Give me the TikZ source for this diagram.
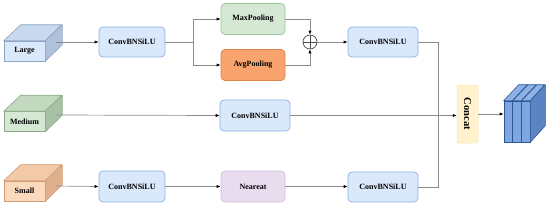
\documentclass[tikz,border=0pt]{standalone}
\usepackage{fontspec}
\setmainfont{Liberation Serif}
\usetikzlibrary{arrows.meta,calc}
\definecolor{convfill}{HTML}{DAE8FC}
\definecolor{convdraw}{HTML}{8DB0E3}
\definecolor{maxfill}{HTML}{D5E8D4}
\definecolor{maxdraw}{HTML}{9CC497}
\definecolor{avgfill}{HTML}{F9A46E}
\definecolor{avgdraw}{HTML}{DB8448}
\definecolor{nearfill}{HTML}{E8DCEF}
\definecolor{neardraw}{HTML}{D3BFE0}
\definecolor{catfill}{HTML}{FFF2CC}
\definecolor{catdraw}{HTML}{F6E6B4}
\definecolor{linegray}{HTML}{8C8C8C}
% cubes
\definecolor{Lfront}{HTML}{DAE8FC}
\definecolor{Ltop}{HTML}{C8D8EE}
\definecolor{Lside}{HTML}{AFC2DA}
\definecolor{Ldraw}{HTML}{8FA5C4}
\definecolor{Mfront}{HTML}{D5E8D4}
\definecolor{Mtop}{HTML}{C2D9C0}
\definecolor{Mside}{HTML}{A7C1A4}
\definecolor{Mdraw}{HTML}{8DAA89}
\definecolor{Sfront}{HTML}{FBD9BD}
\definecolor{Stop}{HTML}{F3CAA8}
\definecolor{Sside}{HTML}{E0B08C}
\definecolor{Sdraw}{HTML}{D29E78}
\definecolor{Ofront}{HTML}{7EA6E0}
\definecolor{Otop}{HTML}{8EB2E6}
\definecolor{Oside}{HTML}{5B85C2}
\definecolor{Oline}{HTML}{2B5797}
\begin{document}
\begin{tikzpicture}[x=1pt,y=-1pt,
  lbl/.style={font=\bfseries\fontsize{8}{9}\selectfont},
  box/.style={lbl, rounded corners=4pt, line width=0.7pt, minimum width=66pt, minimum height=30pt, inner sep=0pt},
  conv/.style={box, fill=convfill, draw=convdraw},
  maxbox/.style={box, fill=maxfill, draw=maxdraw, minimum width=64pt, minimum height=31pt},
  avgbox/.style={box, fill=avgfill, draw=avgdraw, minimum width=64pt, minimum height=31pt},
  nearbox/.style={box, fill=nearfill, draw=neardraw, minimum width=64pt, minimum height=31pt},
  catbox/.style={rounded corners=2pt, fill=catfill, draw=catdraw, line width=0.5pt, minimum width=21pt, minimum height=58pt, inner sep=0pt},
  cubefront/.style={lbl, draw=#1draw, fill=#1front, line width=0.6pt, minimum width=41pt, minimum height=20pt, inner sep=0pt},
  conn/.style={draw=linegray, line width=0.7pt},
  arr/.style={conn, -{Latex[length=4pt,width=3.2pt,color=black]}},
  plusnode/.style={circle, draw=black!70, line width=0.7pt, minimum size=14pt, inner sep=0pt}
]
\useasboundingbox (0,0) rectangle (550,207);

% ---- input cubes
\foreach \nm/\cl/\yy/\txt in {L/L/51/Large, M/M/121.5/Medium, S/S/191/Small}{
  \node[cubefront=\cl] (\nm) at (24.5,\yy) {\txt};
  \filldraw[fill=\cl top, draw=\cl draw, line width=0.6pt, line join=round]
    (\nm.north west) -- ++(17,-16) -- ++(41,0) -- (\nm.north east) -- cycle;
  \filldraw[fill=\cl side, draw=\cl draw, line width=0.6pt, line join=round]
    (\nm.north east) -- ++(17,-16) -- ++(0,20) -- (\nm.south east) -- cycle;
}
\coordinate (Lout) at (56,42);
\coordinate (Mout) at (56,115);
\coordinate (Sout) at (56,186);

% ---- boxes
\node[conv] (cb1) at (132,42) {ConvBNSiLU};
\node[maxbox] (maxp) at (253,19) {MaxPooling};
\node[avgbox] (avgp) at (253,65) {AvgPooling};
\node[plusnode] (plus) at (310,42) {};
\draw[black!70, line width=0.7pt] (plus.north) -- (plus.south) (plus.west) -- (plus.east);
\node[conv, minimum width=70pt] (cb2) at (383,42) {ConvBNSiLU};
\node[conv, minimum width=70pt, minimum height=31pt] (mconv) at (255,115.5) {ConvBNSiLU};
\node[conv, minimum height=31pt] (sconv) at (132,186.5) {ConvBNSiLU};
\node[nearbox] (near) at (253,186.5) {Neareat};
\node[conv, minimum width=70pt] (cb3) at (383,187) {ConvBNSiLU};
\node[catbox] (cat) at (467.5,114) {};
\node[font=\bfseries\fontsize{10.5}{12}\selectfont, rotate=-90] (cattxt) at (cat.center) {Concat};

% ---- output cube
\node[draw=Oline, fill=Ofront, line width=0.6pt, minimum width=26pt, minimum height=41pt, inner sep=0pt] (out) at (517,121.5) {};
\filldraw[fill=Otop, draw=Oline, line width=0.6pt, line join=round]
  (out.north west) -- ++(15,-16) -- ++(26,0) -- (out.north east) -- cycle;
\filldraw[fill=Oside, draw=Oline, line width=0.6pt, line join=round]
  (out.north east) -- ++(15,-16) -- ++(0,41) -- (out.south east) -- cycle;
\foreach \f in {0.333,0.667}{
  \draw[Oline, line width=1pt] ($(out.north west)!\f!(out.north east)$) coordinate (t) -- ($(out.south west)!\f!(out.south east)$);
  \draw[Oline, line width=1pt] (t) -- ++(15,-16);
}

% ---- connectors
\coordinate (br) at (193,42);
\coordinate (mg) at (438,115);
\draw[arr] (Lout) -- (cb1.west);
\draw[conn] (cb1.east) -- (br);
\draw[arr] (br) |- (maxp.west);
\draw[arr] (br) |- (avgp.west);
\draw[arr] (maxp.east) -| (plus.north);
\draw[arr] (avgp.east) -| (plus.south);
\draw[arr] (plus.east) -- (cb2.west);
\draw[conn] (cb2.east) -| (mg);
\draw[conn] (cb3.east) -| (mg);
\draw[arr] (Mout) -- (mconv.west);
\draw[arr] (mconv.east) -- (mconv.east -| cat.west);
\draw[arr] (Sout) -- (sconv.west);
\draw[arr] (sconv.east) -- (near.west);
\draw[arr] (near.east) -- (near.east -| cb3.west);
\draw[arr] (cat.east) -- (cat.east -| out.west);
\end{tikzpicture}
\end{document}
